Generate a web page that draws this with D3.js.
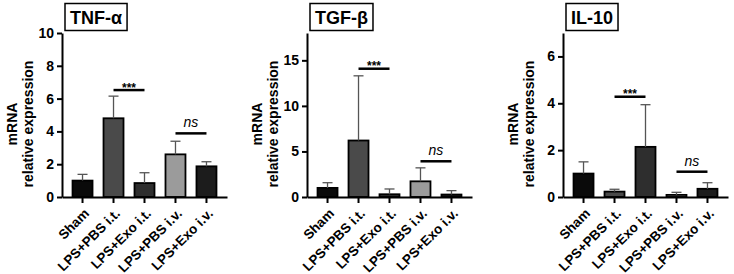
<!DOCTYPE html>
<html lang="en">
<head>
    <meta charset="UTF-8">
    <script src="https://d3js.org/d3.v7.min.js"></script>
    <style>
        body {
            margin: 0;
            background-color: #fff;
            font-family: "Liberation Sans", Arial, sans-serif;
        }
        svg text { font-family: "Liberation Sans", Arial, sans-serif; }
    </style>
</head>
<body>
    <div id="chart"></div>

    <script>
        // data
        const groups = ["Sham", "LPS+PBS i.t.", "LPS+Exo i.t.", "LPS+PBS i.v.", "LPS+Exo i.v."];
        const barColors = ["#0a0a0a", "#4a4a4a", "#2e2e2e", "#9b9b9b", "#1c1c1c"];

        const tnfMean = [1.0, 4.8, 0.85, 2.6, 1.87];
        const tnfUpper = [1.38, 6.15, 1.48, 3.4, 2.15];
        const tnfTicks = [0, 2, 4, 6, 8, 10];

        const tgfMean = [1.0, 6.2, 0.3, 1.72, 0.27];
        const tgfUpper = [1.57, 13.3, 0.88, 3.2, 0.7];
        const tgfTicks = [0, 5, 10, 15];

        const il10Mean = [1.0, 0.23, 2.14, 0.09, 0.35];
        const il10Upper = [1.5, 0.33, 3.94, 0.2, 0.61];
        const il10Ticks = [0, 2, 4, 6];

        const panels = [
            { title: "TNF-α", mean: tnfMean, upper: tnfUpper, ticks: tnfTicks, max: 10, left: 62, starY: 6.52, nsY: 3.88 },
            { title: "TGF-β", mean: tgfMean, upper: tgfUpper, ticks: tgfTicks, max: 18, left: 307, starY: 14.08, nsY: 3.92 },
            { title: "IL-10", mean: il10Mean, upper: il10Upper, ticks: il10Ticks, max: 7, left: 563, starY: 4.28, nsY: 1.08 }
        ];

        const W = 734, H = 274;
        const plotW = 165, y0 = 197, y1 = 33;

        const svg = d3.select("#chart")
            .append("svg")
            .attr("width", W)
            .attr("height", H);

        panels.forEach(p => {
            const g = svg.append("g")
                .attr("transform", `translate(${p.left},0)`);

            const x = d3.scaleBand()
                .domain(groups)
                .range([0, plotW])
                .paddingInner(0.355)
                .paddingOuter(0.34);

            const y = d3.scaleLinear()
                .domain([0, p.max])
                .range([y0, y1]);

            // bars
            g.selectAll(".bar")
                .data(groups)
                .enter()
                .append("rect")
                .attr("x", d => x(d))
                .attr("y", (d, i) => y(p.mean[i]))
                .attr("width", x.bandwidth())
                .attr("height", (d, i) => y0 - y(p.mean[i]))
                .attr("fill", (d, i) => barColors[i])
                .attr("stroke", "#000")
                .attr("stroke-width", 1.8);

            // error bars (upper only)
            const eb = g.selectAll(".err")
                .data(groups)
                .enter()
                .append("g");
            eb.append("line")
                .attr("x1", d => x(d) + x.bandwidth() / 2)
                .attr("x2", d => x(d) + x.bandwidth() / 2)
                .attr("y1", (d, i) => y(p.mean[i]))
                .attr("y2", (d, i) => y(p.upper[i]))
                .attr("stroke", "#555")
                .attr("stroke-width", 1.3);
            eb.append("line")
                .attr("x1", d => x(d) + x.bandwidth() / 2 - 5)
                .attr("x2", d => x(d) + x.bandwidth() / 2 + 5)
                .attr("y1", (d, i) => y(p.upper[i]))
                .attr("y2", (d, i) => y(p.upper[i]))
                .attr("stroke", "#555")
                .attr("stroke-width", 1.3);

            // axes
            const yAxis = g.append("g")
                .call(d3.axisLeft(y).tickValues(p.ticks).tickFormat(d3.format("d"))
                    .tickSize(5).tickSizeOuter(0).tickPadding(3));
            yAxis.selectAll("path, line").attr("stroke", "#000").attr("stroke-width", 2);
            yAxis.selectAll("text")
                .style("font-size", "14px")
                .style("font-weight", "bold")
                .attr("fill", "#000");

            const xAxis = g.append("g")
                .attr("transform", `translate(0,${y0})`)
                .call(d3.axisBottom(x).tickSize(6).tickSizeOuter(0));
            xAxis.selectAll("path, line").attr("stroke", "#000").attr("stroke-width", 2);
            xAxis.selectAll("text")
                .attr("x", 0)
                .attr("y", 0)
                .attr("dy", "0.35em")
                .attr("transform", "translate(4,14) rotate(-45)")
                .style("text-anchor", "end")
                .style("font-size", "13.5px")
                .style("font-weight", "bold")
                .attr("fill", "#000");

            // y label
            const lab = g.append("text")
                .attr("transform", `translate(${-45},${124}) rotate(-90)`)
                .attr("text-anchor", "middle")
                .style("font-size", "14px")
                .style("font-weight", "bold");
            lab.append("tspan").attr("x", 0).attr("dy", 0).text("mRNA");
            lab.append("tspan").attr("x", 0).attr("dy", 16).text("relative expression");

            // title box
            const t = g.append("text")
                .attr("x", 0)
                .attr("y", 24)
                .style("font-size", "18px")
                .style("font-weight", "bold")
                .text(p.title);
            const bb = t.node().getBBox();
            const pad = 5;
            const bx = 3;
            t.attr("x", bx + pad);
            g.insert("rect", () => t.node())
                .attr("x", bx)
                .attr("y", 3.5)
                .attr("width", bb.width + pad * 2)
                .attr("height", 27)
                .attr("fill", "#fff")
                .attr("stroke", "#000")
                .attr("stroke-width", 1.5);

            // significance: *** between i.t. groups, ns between i.v. groups
            const c = d => x(d) + x.bandwidth() / 2;
            g.append("line")
                .attr("x1", c(groups[1]))
                .attr("x2", c(groups[2]))
                .attr("y1", y(p.starY))
                .attr("y2", y(p.starY))
                .attr("stroke", "#000")
                .attr("stroke-width", 2.5);
            g.append("text")
                .attr("x", (c(groups[1]) + c(groups[2])) / 2)
                .attr("y", y(p.starY) + 1.5)
                .attr("text-anchor", "middle")
                .style("font-size", "12px")
                .style("font-weight", "bold")
                .text("***");

            g.append("line")
                .attr("x1", c(groups[3]))
                .attr("x2", c(groups[4]))
                .attr("y1", y(p.nsY))
                .attr("y2", y(p.nsY))
                .attr("stroke", "#000")
                .attr("stroke-width", 2.5);
            g.append("text")
                .attr("x", (c(groups[3]) + c(groups[4])) / 2)
                .attr("y", y(p.nsY) - 6)
                .attr("text-anchor", "middle")
                .style("font-size", "14px")
                .style("font-style", "italic")
                .text("ns");
        });
    </script>
</body>
</html>
